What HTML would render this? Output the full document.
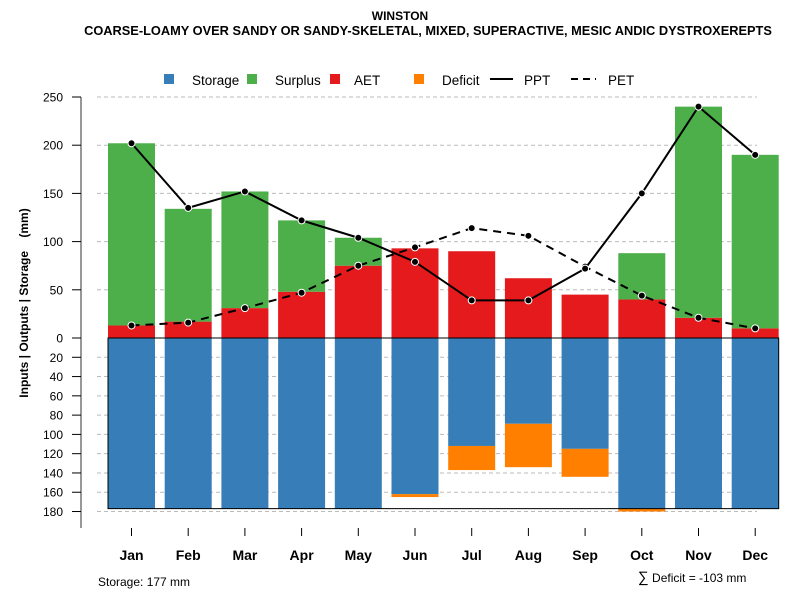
<!DOCTYPE html>
<html><head><meta charset="utf-8"><style>
body{margin:0;background:#fff;font-family:"Liberation Sans",sans-serif}
svg{display:block}
</style></head><body>
<svg id="c" width="800" height="600" xmlns="http://www.w3.org/2000/svg" font-family="Liberation Sans, sans-serif">
<text x="400" y="20" text-anchor="middle" font-size="12" font-weight="bold">WINSTON</text>
<text x="428" y="35" text-anchor="middle" font-size="12.8" font-weight="bold">COARSE-LOAMY OVER SANDY OR SANDY-SKELETAL, MIXED, SUPERACTIVE, MESIC ANDIC DYSTROXEREPTS</text>
<g id="legend" font-size="13.5">
<rect x="164" y="74" width="10" height="10" fill="#377eb8"/>
<text x="192" y="85">Storage</text>
<rect x="247" y="74" width="10" height="10" fill="#4daf4a"/>
<text x="275" y="85">Surplus</text>
<rect x="330" y="74" width="10" height="10" fill="#e41a1c"/>
<text x="354" y="85">AET</text>
<rect x="414" y="74" width="10" height="10" fill="#ff7f00"/>
<text x="442" y="85">Deficit</text>
<line x1="490" y1="79" x2="513" y2="79" stroke="#000" stroke-width="2"/>
<text x="524" y="85">PPT</text>
<line x1="571" y1="79" x2="596" y2="79" stroke="#000" stroke-width="2" stroke-dasharray="7,5"/>
<text x="608" y="85">PET</text>
</g>
<text transform="translate(28,303) rotate(-90)" text-anchor="middle" font-size="12" font-weight="bold" style="white-space:pre" xml:space="preserve">Inputs | Outputs | Storage    (mm)</text>
<text x="98" y="586" font-size="12">Storage: 177 mm</text>
<text x="638" y="582" font-size="12"><tspan font-size="15">∑</tspan> Deficit = -103 mm</text>
</svg>
<script>
const months=["Jan","Feb","Mar","Apr","May","Jun","Jul","Aug","Sep","Oct","Nov","Dec"];
const aet=[13,17,31,48,75,93,90,62,45,40,21,10];
const surplus=[189,117,121,74,29,0,0,0,0,48,219,180];
const storage=[177,177,177,177,177,162,112,89,115,177,177,177];
const deficit=[0,0,0,0,0,3,25,45,29,3,0,0];
const ppt=[202,135,152,122,104,79,39,39,72,150,240,190];
const pet=[13,16,31,47,75,94,114,106,74,44,21,10];
const upTicks=[0,50,100,150,200,250];
const downTicks=[20,40,60,80,100,120,140,160,180];
const svg=document.getElementById('c');
const NS='http://www.w3.org/2000/svg';
const y0=338,k=0.964;
const yUp=v=>y0-v*k, yDn=v=>y0+v*k;
const xC=i=>131.5+i*56.7, bw=47;
function mk(t,a){const e=document.createElementNS(NS,t);for(const n in a)e.setAttribute(n,a[n]);svg.appendChild(e);return e;}
upTicks.forEach(v=>{if(v>0){const g=mk('line',{x1:97,x2:757,y1:yUp(v),y2:yUp(v),stroke:'#bbb','stroke-dasharray':'4,3'});

}});
downTicks.forEach(v=>{const g=mk('line',{x1:97,x2:757,y1:yDn(v),y2:yDn(v),stroke:'#bbb','stroke-dasharray':'4,3'});

});
const ax=mk('line',{x1:81,x2:81,y1:yUp(250),y2:528,stroke:'#777','stroke-width':1.5});


upTicks.concat(downTicks.map(v=>-v)).forEach(v=>{const yy=v>=0?yUp(v):yDn(-v);
const t=mk('line',{x1:72,x2:81,y1:yy,y2:yy,stroke:'#000'});


const l=mk('text',{x:63,y:yy+4.5,'text-anchor':'end','font-size':12});l.textContent=Math.abs(v);

});
months.forEach((m,i)=>{const x=xC(i),L=x-bw/2;
const a=mk('rect',{x:L,y:yUp(aet[i]),width:bw,height:aet[i]*k,fill:'#e41a1c'});


if(surplus[i]>0){const s=mk('rect',{x:L,y:yUp(aet[i]+surplus[i]),width:bw,height:surplus[i]*k,fill:'#4daf4a'});

}
const st=mk('rect',{x:L,y:y0,width:bw,height:storage[i]*k,fill:'#377eb8'});


if(deficit[i]>0){const d=mk('rect',{x:L,y:yDn(storage[i]),width:bw,height:deficit[i]*k,fill:'#ff7f00'});

}
const t=mk('line',{x1:x,x2:x,y1:528,y2:536,stroke:'#000'});


const l=mk('text',{x:x,y:560,'text-anchor':'middle','font-size':14,'font-weight':'bold'});l.textContent=m;

});
const box=mk('rect',{x:xC(0)-bw/2,y:y0,width:xC(11)+bw/2-(xC(0)-bw/2),height:177*k,fill:'none',stroke:'#000'});


function series(arr,name,dash){const pts=arr.map((v,i)=>xC(i)+','+yUp(v)).join(' ');
const p=mk('polyline',{points:pts,fill:'none',stroke:'#000','stroke-width':2,'stroke-dasharray':dash});


arr.forEach((v,i)=>{const c=mk('circle',{cx:xC(i),cy:yUp(v),r:3.5,fill:'#000',stroke:'#fff','stroke-width':1});

});}
series(pet,'pet','8,6');
series(ppt,'ppt','none');
</script>
</body></html>
